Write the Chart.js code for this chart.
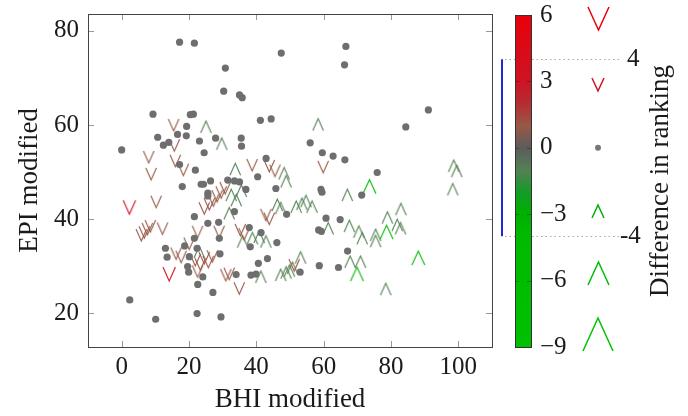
<!DOCTYPE html>
<html>
<head>
<meta charset="utf-8">
<script src="https://cdn.jsdelivr.net/npm/chart.js@4.4.0/dist/chart.umd.min.js"></script>
<style>
  html, body { margin: 0; padding: 0; background: #fff; }
  #wrap { position: relative; width: 688px; height: 416px; }
  #main { position: absolute; left: 0; top: 0; }
  #bar { position: absolute; left: 495px; top: 0; }
</style>
</head>
<body>
<div id="wrap">
  <canvas id="main" width="688" height="416"></canvas>
  <canvas id="bar" width="193" height="416"></canvas>
</div>
<script>
// axis ticks
const xTicks = [0, 20, 40, 60, 80, 100];
const yTicks = [20, 40, 60, 80];
const cbTicks = [6, 3, 0, -3, -6, -9];
const cbMarks = [4, -4];
const legendVals = [6, 3, 0, -3, -6, -9];

// colour map of the ranking difference
const cmapAt = [-9, -4, -3, -2, -1, 0, 1, 2, 3, 6];
const cmapRgb = [[0, 192, 0], [0, 186, 0], [0, 176, 0], [20, 155, 40], [85, 128, 85],
  [92, 92, 92], [152, 88, 70], [180, 45, 50], [205, 20, 35], [232, 0, 10]];

// countries with no change in ranking (dots)
const dotBhi = [17.2, 21.6, 47.4, 30.8, 30.3, 35.0, 35.8, 9.3, 20.4, 21.3, 41.2, 44.4, 19.3, 10.7, 16.6,
  19.2, 12.4, 14.0, 23.1, 27.9, 35.5, 35.6, 24.5, 0, 42.9, 17.2, 21.9, 40.4, 66.6, 66.2, 91.1, 84.4,
  56.0, 59.6, 62.8, 66.3, 75.9, 18.0, 23.6, 24.3, 26.4, 31.5, 33.5, 35.0, 36.9, 45.8, 25.6, 25.6, 59.2,
  59.5, 71.3, 49.0, 21.6, 25.6, 28.8, 60.7, 64.9, 58.5, 59.3, 37.9, 41.4, 29.0, 21.6, 18.7, 22.4, 13.0,
  13.5, 20.1, 29.2, 38.2, 46.1, 19.6, 19.9, 22.6, 24.1, 27.1, 34.0, 38.4, 39.9, 43.3, 40.6, 53.0, 58.7,
  64.4, 67.1, 2.4, 10.1, 22.4, 29.5, 33.5];
const dotEpi = [77.6, 77.4, 75.3, 72.1, 67.2, 66.4, 65.8, 62.3, 62.2, 62.3, 61.0, 61.3, 59.7, 57.4, 58.0,
  57.7, 55.7, 56.3, 56.6, 57.2, 57.2, 55.5, 54.1, 54.7, 52.9, 51.6, 50.4, 49.0, 76.7, 72.8, 63.2, 59.6,
  56.2, 54.1, 53.4, 52.6, 49.9, 46.9, 47.4, 47.4, 48.1, 48.3, 48.1, 47.9, 46.3, 46.5, 45.5, 44.9, 46.3,
  45.7, 45.1, 41.0, 40.5, 39.1, 39.3, 40.2, 39.9, 37.7, 37.4, 38.2, 37.1, 35.9, 35.9, 34.3, 33.8, 33.8,
  31.9, 32.0, 32.6, 34.1, 35.0, 29.9, 28.7, 26.1, 27.7, 24.4, 28.2, 28.1, 28.3, 31.6, 30.6, 28.7, 30.1,
  29.7, 33.2, 22.8, 18.7, 19.9, 19.2, 41.6];

// countries that move down (V)
const downBhi = [15.5, 15.7, 8.1, 8.8, 16.0, 18.4, 38.8, 43.9, 45.6, 59.9, 10.3, 2.4, 5.9, 6.8, 7.7, 8.6,
  12.2, 22.6, 29.0, 24.6, 26.1, 27.3, 28.4, 29.6, 30.8, 20.1, 16.2, 17.7, 21.9, 23.4, 24.6, 25.8, 27.0,
  14.2, 31.0, 32.0, 35.0, 42.9, 43.9, 35.3, 36.4, 51.3, 22.6];
const downEpi = [60.0, 55.7, 53.2, 49.6, 52.4, 50.5, 51.5, 51.3, 50.3, 51.1, 43.7, 42.5, 36.6, 37.2, 37.9,
  38.5, 38.0, 37.3, 37.3, 42.3, 43.2, 44.0, 44.9, 45.7, 46.6, 34.8, 32.7, 32.0, 31.3, 30.4, 31.7, 30.9,
  32.1, 28.3, 28.1, 28.4, 25.3, 40.9, 40.1, 37.7, 36.8, 30.2, 28.9];
const downDiff = [1, 1, 1, 1, 1, 1, 1, 1, 1, 1, 1, 4, 1, 1, 1, 1, 1, 1, 1, 1, 1, 1, 1, 1, 1, 1, 1, 1, 1,
  1, 1, 1, 1, 4, 1, 1, 1, 1, 1, 1, 1, 1, 1];

// countries that move up (^)
const upBhi = [25.1, 29.8, 33.8, 48.3, 48.9, 58.4, 98.7, 99.6, 98.4, 73.6, 67.1, 51.9, 53.6, 54.8, 56.6,
  46.3, 47.3, 61.4, 67.7, 70.5, 71.5, 75.5, 75.5, 78.7, 79.0, 81.9, 82.9, 83.0, 88.1, 67.9, 71.0, 69.9,
  53.2, 78.5, 47.3, 48.9, 49.9, 50.8, 41.4, 36.0, 38.9, 40.9, 42.9, 32.0, 35.6, 32.6, 34.1, 23.1];
const upEpi = [59.6, 56.0, 50.6, 49.7, 48.0, 60.1, 51.3, 50.2, 46.3, 46.9, 45.1, 42.6, 43.2, 43.8, 42.6,
  43.0, 42.3, 38.0, 38.5, 37.3, 35.9, 36.6, 35.3, 37.2, 40.3, 38.7, 38.0, 42.1, 31.7, 30.9, 30.9, 28.3,
  31.8, 25.1, 28.1, 28.6, 29.0, 29.6, 27.7, 35.2, 35.9, 36.2, 35.2, 41.2, 46.0, 45.1, 44.0, 33.0];
const upDiff = [-1, -1, -1, -1, -1, -1, -1, -1, -1, -5, -1, -1, -1, -1, -1, -1, -1, -1, -1, -1, -1, -1,
  -1, -5, -1, -1, -1, -1, -5, -1, -1, -5, -1, -1, -1, -1, -1, -1, -1, -1, -1, -1, -1, -1, -1, -1, -1, -1];

const SERIF = "'Liberation Serif', 'Times New Roman', serif";
const INK = '#1a1a1a';

function colorFor(d) {
  if (d <= cmapAt[0]) return 'rgb(' + cmapRgb[0].join(',') + ')';
  for (let i = 1; i < cmapAt.length; i++) {
    if (d <= cmapAt[i]) {
      const t = (d - cmapAt[i - 1]) / (cmapAt[i] - cmapAt[i - 1]);
      const a = cmapRgb[i - 1], b = cmapRgb[i];
      const c = a.map((v, k) => Math.round(v + (b[k] - v) * t));
      return 'rgb(' + c.join(',') + ')';
    }
  }
  return 'rgb(' + cmapRgb[cmapRgb.length - 1].join(',') + ')';
}

// V for worse ranking, ^ for better ranking
function chevron(d, w, lw) {
  const h = Math.round(w * 1.1);
  const c = document.createElement('canvas');
  c.width = Math.ceil(w) + 4;
  c.height = h + 4;
  const g = c.getContext('2d');
  g.strokeStyle = colorFor(d);
  g.lineWidth = lw;
  g.beginPath();
  if (d > 0) {
    g.moveTo(2, 2); g.lineTo(2 + w / 2, 2 + h); g.lineTo(2 + w, 2);
  } else {
    g.moveTo(2, 2 + h); g.lineTo(2 + w / 2, 2); g.lineTo(2 + w, 2 + h);
  }
  g.stroke();
  return c;
}

const plotMarker = (d) => chevron(d, 10 + 0.6 * Math.abs(d), 1.1);
const toPoints = (xs, ys) => xs.map((x, i) => ({ x: x, y: ys[i] }));
const noPad = (s) => { s.paddingTop = 0; s.paddingBottom = 0; s.paddingLeft = 0; s.paddingRight = 0; };

// frame and inward ticks on all four sides (pgfplots look)
const framePlugin = {
  id: 'frame',
  afterDatasetsDraw(chart) {
    const { ctx, chartArea: a, scales } = chart;
    ctx.save();
    ctx.strokeStyle = '#999';
    ctx.lineWidth = 1;
    ctx.beginPath();
    xTicks.forEach((v) => {
      const px = Math.round(scales.x.getPixelForValue(v)) + 0.5;
      ctx.moveTo(px, a.top); ctx.lineTo(px, a.top + 6);
      ctx.moveTo(px, a.bottom); ctx.lineTo(px, a.bottom - 6);
    });
    yTicks.forEach((v) => {
      const py = Math.round(scales.y.getPixelForValue(v)) + 0.5;
      ctx.moveTo(a.left, py); ctx.lineTo(a.left + 6, py);
      ctx.moveTo(a.right, py); ctx.lineTo(a.right - 6, py);
    });
    ctx.stroke();
    ctx.strokeStyle = '#444';
    ctx.strokeRect(Math.round(a.left) + 0.5, Math.round(a.top) + 0.5,
      Math.round(a.right - a.left), Math.round(a.bottom - a.top));
    ctx.restore();
  },
};

new Chart(document.getElementById('main'), {
  type: 'scatter',
  data: {
    datasets: [
      {
        data: toPoints(dotBhi, dotEpi),
        pointRadius: 3.6,
        backgroundColor: '#6e6e6e',
        borderWidth: 0,
      },
      {
        data: toPoints(downBhi, downEpi),
        pointStyle: downDiff.map(plotMarker),
      },
      {
        data: toPoints(upBhi, upEpi),
        pointStyle: upDiff.map(plotMarker),
      },
    ],
  },
  options: {
    responsive: false,
    animation: false,
    events: [],
    layout: { padding: { top: 14, right: 196, left: 0, bottom: 0 } },
    plugins: { legend: { display: false }, tooltip: { enabled: false } },
    scales: {
      x: {
        type: 'linear',
        min: -10,
        max: 110,
        afterBuildTicks: (s) => { s.ticks = xTicks.map((v) => ({ value: v })); },
        afterFit: (s) => { s.height = 69; noPad(s); },
        grid: { display: false, drawTicks: false },
        border: { display: false },
        ticks: { padding: 5, color: INK, font: { family: SERIF, size: 25 } },
        title: {
          display: true, text: 'BHI modified', color: INK,
          font: { family: SERIF, size: 27 }, padding: { top: 0, bottom: 0 },
        },
      },
      y: {
        min: 12.8,
        max: 83.6,
        afterBuildTicks: (s) => { s.ticks = yTicks.map((v) => ({ value: v })); },
        afterFit: (s) => { s.width = 88; noPad(s); },
        grid: { display: false, drawTicks: false },
        border: { display: false },
        ticks: { padding: 9, color: INK, font: { family: SERIF, size: 25 } },
        title: {
          display: true, text: 'EPI modified', color: INK,
          font: { family: SERIF, size: 27 }, padding: { top: 14, bottom: 0 },
        },
      },
    },
  },
  plugins: [framePlugin],
});

// colour bar, reference levels and size legend
const legendOffset = 83; // px right of the colour bar
const legendMarker = (v) => chevron(v, 3 * Math.abs(v) + 3, 1.5);

const colorbarPlugin = {
  id: 'colorbar',
  afterDraw(chart) {
    const { ctx, chartArea: a, scales } = chart;
    const y = scales.y;
    ctx.save();
    // dotted reference lines
    ctx.strokeStyle = '#aaa';
    ctx.lineWidth = 1;
    ctx.setLineDash([1.5, 3]);
    ctx.beginPath();
    cbMarks.forEach((v) => {
      const py = Math.round(y.getPixelForValue(v)) + 0.5;
      ctx.moveTo(a.left - 10, py); ctx.lineTo(a.left + 105, py);
    });
    ctx.stroke();
    ctx.setLineDash([]);
    // blue bracket
    ctx.strokeStyle = '#2424e0';
    ctx.lineWidth = 2;
    ctx.beginPath();
    ctx.moveTo(a.left - 13, y.getPixelForValue(cbMarks[0]));
    ctx.lineTo(a.left - 13, y.getPixelForValue(cbMarks[1]));
    ctx.stroke();
    // gradient bar
    const grad = ctx.createLinearGradient(0, a.top, 0, a.bottom);
    cmapAt.forEach((v) => {
      grad.addColorStop((y.max - v) / (y.max - y.min), colorFor(v));
    });
    ctx.fillStyle = grad;
    ctx.fillRect(a.left, a.top, a.right - a.left, a.bottom - a.top);
    ctx.strokeStyle = 'rgba(0,0,0,0.3)';
    ctx.lineWidth = 1;
    ctx.beginPath();
    cbTicks.forEach((v) => {
      const py = Math.round(y.getPixelForValue(v)) + 0.5;
      ctx.moveTo(a.left, py); ctx.lineTo(a.left + 4, py);
      ctx.moveTo(a.right, py); ctx.lineTo(a.right - 4, py);
    });
    ctx.stroke();
    ctx.strokeStyle = '#333';
    ctx.strokeRect(Math.round(a.left) + 0.5, Math.round(a.top) + 0.5,
      Math.round(a.right - a.left), Math.round(a.bottom - a.top));
    // size legend: V hangs just below its level, ^ stands on it
    legendVals.forEach((v) => {
      const px = a.left + legendOffset;
      const py = y.getPixelForValue(v);
      if (v === 0) {
        ctx.fillStyle = '#777';
        ctx.beginPath();
        ctx.arc(px, py, 3, 0, Math.PI * 2);
        ctx.fill();
      } else {
        const m = legendMarker(v);
        const top = v > 0 ? py - m.height / 2 + 3 : py + 4 - m.height + 2;
        ctx.drawImage(m, Math.round(px - m.width / 2), Math.round(top));
      }
    });
    // labels of the reference lines
    ctx.fillStyle = INK;
    ctx.font = '25px ' + SERIF;
    ctx.textAlign = 'left';
    ctx.textBaseline = 'middle';
    ctx.fillText(String(cbMarks[0]), a.left + 112, y.getPixelForValue(cbMarks[0]));
    ctx.fillText(String(cbMarks[1]), a.left + 105, y.getPixelForValue(cbMarks[1]));
    // rotated title
    ctx.font = '27px ' + SERIF;
    ctx.textAlign = 'center';
    ctx.translate(a.left + 146, (a.top + a.bottom) / 2);
    ctx.rotate(-Math.PI / 2);
    ctx.fillText('Difference in ranking', 0, 0);
    ctx.restore();
  },
};

new Chart(document.getElementById('bar'), {
  type: 'scatter',
  data: { datasets: [] },
  options: {
    responsive: false,
    animation: false,
    events: [],
    layout: { padding: { left: 20, top: 15, bottom: 69, right: 0 } },
    plugins: { legend: { display: false }, tooltip: { enabled: false } },
    scales: {
      x: { type: 'linear', min: 0, max: 1, display: false },
      y: {
        position: 'right',
        min: -9,
        max: 6,
        afterBuildTicks: (s) => { s.ticks = cbTicks.map((v) => ({ value: v })); },
        afterFit: (s) => { s.width = 157; noPad(s); },
        grid: { display: false, drawTicks: false },
        border: { display: false },
        ticks: {
          padding: 9, color: INK, font: { family: SERIF, size: 25 },
          callback: (v) => String(v).replace('-', '\u2212'),
        },
      },
    },
  },
  plugins: [colorbarPlugin],
});
</script>
</body>
</html>
